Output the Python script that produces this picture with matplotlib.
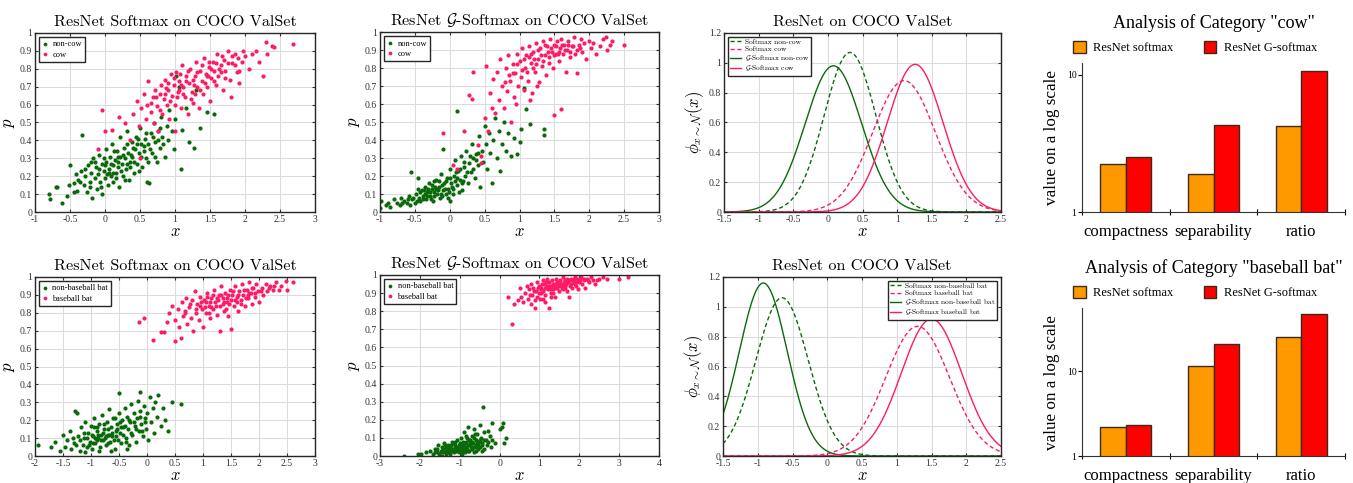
import numpy as np
import matplotlib
matplotlib.use('Agg')
from matplotlib import pyplot as plt
from matplotlib.ticker import FixedLocator, NullLocator, FixedFormatter, MultipleLocator

plt.rcParams['mathtext.fontset'] = 'cm'
plt.rcParams['axes.unicode_minus'] = False
plt.rcParams['font.family'] = ['Liberation Serif', 'DejaVu Serif']

GREEN = '#0a6a0a'
PINK = '#ff1a66'
ORANGE = '#ff9900'
RED = '#ff0000'

# ---- scatter data (x, p) ----
cow_soft_neg = [(-0.80,0.10),(-0.78,0.07),(-0.70,0.14),(-0.68,0.14),(-0.62,0.05),(-0.55,0.09),(-0.52,0.15),(-0.50,0.26),
    (-0.45,0.16),(-0.42,0.21),(-0.40,0.12),(-0.38,0.18),(-0.35,0.23),(-0.33,0.43),(-0.30,0.15),(-0.28,0.20),(-0.26,0.11),
    (-0.25,0.26),(-0.22,0.17),(-0.20,0.22),(-0.18,0.08),(-0.17,0.30),(-0.15,0.19),(-0.13,0.25),(-0.12,0.13),(-0.10,0.21),
    (-0.08,0.32),(-0.07,0.17),(-0.05,0.27),(-0.04,0.10),(-0.02,0.23),(0.00,0.19),(0.01,0.35),(0.02,0.28),(0.04,0.15),
    (0.05,0.24),(0.07,0.31),(0.08,0.20),(0.10,0.38),(0.11,0.26),(0.12,0.17),(0.14,0.29),(0.15,0.22),(0.17,0.34),(0.18,0.25),
    (0.20,0.14),(0.21,0.31),(0.22,0.42),(0.24,0.27),(0.25,0.20),(0.27,0.36),(0.28,0.30),(0.30,0.24),(0.31,0.45),(0.33,0.33),
    (0.34,0.18),(0.36,0.28),(0.38,0.39),(0.39,0.31),(0.41,0.22),(0.43,0.35),(0.44,0.42),(0.46,0.27),(0.48,0.33),(0.50,0.47),
    (0.51,0.38),(0.53,0.25),(0.55,0.34),(0.57,0.41),(0.58,0.30),(0.60,0.17),(0.62,0.38),(0.63,0.16),(0.65,0.44),(0.67,0.33),
    (0.70,0.50),(0.72,0.39),(0.74,0.28),(0.76,0.45),(0.78,0.36),(0.80,0.53),(0.82,0.42),(0.85,0.31),(0.88,0.48),(0.90,0.40),
    (0.92,0.57),(0.95,0.45),(0.98,0.35),(1.00,0.52),(1.02,0.76),(1.05,0.70),(1.08,0.24),(1.10,0.46),(1.15,0.58),(1.20,0.39),
    (1.27,0.36),(1.30,0.68),(1.35,0.47),(1.45,0.56),(1.55,0.55),(-0.20,0.28),(0.06,0.22),(0.32,0.27),(0.18,0.31),(0.45,0.38),
    (-0.28,0.24),(-0.21,0.14),(-0.14,0.28),(-0.06,0.14),(-0.01,0.30),(0.03,0.21),(0.09,0.27),(0.13,0.34),(0.16,0.19),
    (0.19,0.28),(0.23,0.23),(0.26,0.32),(0.29,0.18),(0.32,0.38),(0.35,0.25),(0.37,0.32),(0.40,0.36),(0.42,0.28),(0.47,0.41),
    (0.49,0.23),(0.52,0.31),(0.56,0.37),(0.59,0.44),(0.61,0.28),(0.64,0.35),(0.68,0.42),(0.71,0.31),(0.75,0.40),(0.79,0.47),
    (0.83,0.38),(-0.36,0.17),(-0.44,0.11),(-0.09,0.24),(0.00,0.26),(0.12,0.22)]
cow_soft_pos = [(-0.10,0.35),(-0.05,0.57),(0.00,0.45),(0.10,0.46),(0.20,0.53),(0.28,0.50),(0.35,0.40),(0.40,0.55),(0.45,0.62),
    (0.48,0.48),(0.50,0.30),(0.52,0.58),(0.55,0.66),(0.58,0.52),(0.60,0.60),(0.62,0.73),(0.65,0.56),(0.68,0.64),(0.70,0.50),
    (0.72,0.68),(0.74,0.59),(0.76,0.45),(0.78,0.66),(0.80,0.71),(0.82,0.55),(0.84,0.63),(0.86,0.74),(0.88,0.60),(0.90,0.68),
    (0.92,0.52),(0.94,0.77),(0.96,0.65),(0.98,0.71),(1.00,0.45),(1.00,0.60),(1.02,0.78),(1.04,0.67),(1.06,0.73),(1.08,0.58),
    (1.10,0.82),(1.12,0.70),(1.14,0.64),(1.16,0.76),(1.18,0.55),(1.20,0.72),(1.22,0.80),(1.24,0.67),(1.26,0.61),(1.28,0.76),
    (1.30,0.84),(1.32,0.70),(1.34,0.58),(1.36,0.79),(1.38,0.73),(1.40,0.66),(1.42,0.86),(1.44,0.77),(1.46,0.70),(1.48,0.81),
    (1.50,0.62),(1.52,0.75),(1.54,0.84),(1.56,0.79),(1.58,0.71),(1.60,0.88),(1.62,0.76),(1.65,0.82),(1.68,0.68),(1.70,0.85),
    (1.72,0.79),(1.75,0.90),(1.78,0.74),(1.80,0.64),(1.82,0.83),(1.85,0.88),(1.88,0.78),(1.90,0.86),(1.92,0.72),(1.95,0.84),
    (2.00,0.87),(2.05,0.80),(2.10,0.88),(2.15,0.90),(2.20,0.84),(2.25,0.76),(2.30,0.95),(2.32,0.88),(2.38,0.93),(2.42,0.92),
    (2.68,0.94),(1.05,0.68),(1.25,0.74),(1.45,0.76),(0.85,0.66),(1.65,0.78),
    (0.66,0.61),(0.73,0.64),(0.79,0.57),(0.87,0.69),(0.93,0.62),(0.99,0.75),(1.03,0.64),(1.07,0.77),(1.11,0.66),(1.15,0.73),
    (1.19,0.79),(1.23,0.63),(1.27,0.71),(1.31,0.78),(1.35,0.68),(1.39,0.82),(1.43,0.72),(1.47,0.76),(1.51,0.80),(1.55,0.73),
    (1.59,0.83),(1.63,0.80),(1.67,0.87),(1.71,0.75),(1.76,0.83),(1.81,0.87),(1.86,0.82),(1.91,0.79),(1.97,0.90),(0.90,0.72),
    (1.09,0.71),(1.29,0.66),(1.49,0.84)]
cow_g_neg = [(-1.00,0.02),(-0.98,0.06),(-0.92,0.04),(-0.88,0.05),(-0.85,0.03),(-0.80,0.07),(-0.76,0.05),(-0.72,0.04),
    (-0.70,0.08),(-0.66,0.06),(-0.62,0.05),(-0.58,0.09),(-0.55,0.22),(-0.54,0.07),(-0.50,0.05),(-0.48,0.10),(-0.46,0.19),
    (-0.44,0.08),(-0.42,0.06),(-0.40,0.12),(-0.38,0.09),(-0.36,0.14),(-0.34,0.07),(-0.32,0.11),(-0.30,0.16),(-0.28,0.09),
    (-0.26,0.13),(-0.24,0.06),(-0.22,0.11),(-0.20,0.18),(-0.18,0.10),(-0.16,0.14),(-0.14,0.08),(-0.12,0.21),(-0.10,0.12),
    (-0.09,0.35),(-0.08,0.16),(-0.06,0.10),(-0.04,0.19),(-0.02,0.13),(0.00,0.24),(0.02,0.16),(0.04,0.10),(0.06,0.20),
    (0.08,0.29),(0.10,0.15),(0.10,0.56),(0.12,0.23),(0.14,0.18),(0.16,0.31),(0.18,0.12),(0.20,0.25),(0.22,0.20),(0.24,0.34),
    (0.26,0.16),(0.28,0.27),(0.30,0.22),(0.32,0.38),(0.34,0.30),(0.36,0.19),(0.38,0.32),(0.40,0.26),(0.42,0.42),(0.44,0.14),
    (0.46,0.34),(0.48,0.28),(0.50,0.48),(0.52,0.38),(0.54,0.24),(0.56,0.44),(0.58,0.33),(0.60,0.16),(0.62,0.40),(0.65,0.52),
    (0.68,0.30),(0.70,0.45),(0.72,0.23),(0.75,0.38),(0.78,0.50),(0.80,0.34),(0.84,0.44),(0.88,0.31),(0.92,0.41),(0.96,0.32),
    (1.00,0.39),(1.02,0.46),(1.07,0.69),(1.10,0.57),(1.15,0.49),(1.35,0.43),(1.35,0.46),(-0.35,0.10),(-0.27,0.07),
    (-0.19,0.13),(-0.11,0.09),(-0.03,0.08),(0.05,0.13),(-0.15,0.17),(-0.25,0.15),(0.13,0.11),(0.00,0.06),
    (-0.52,0.08),(-0.47,0.06),(-0.43,0.11),(-0.39,0.07),(-0.37,0.12),(-0.33,0.09),(-0.31,0.13),(-0.29,0.11),(-0.23,0.09),
    (-0.21,0.14),(-0.17,0.12),(-0.13,0.10),(-0.11,0.15),(-0.07,0.13),(-0.05,0.17),(-0.01,0.11),(0.01,0.19),(0.03,0.14),
    (0.07,0.17),(0.09,0.22),(0.11,0.19),(0.15,0.24),(0.17,0.16),(0.21,0.28),(0.25,0.22),(0.29,0.31),(0.33,0.24),(0.37,0.29),
    (0.41,0.33),(-0.60,0.07),(-0.68,0.05),(-0.57,0.04),(-0.45,0.13),(-0.23,0.17),(0.19,0.17)]
cow_g_pos = [(-0.10,0.44),(0.05,0.26),(0.10,0.24),(0.20,0.45),(0.28,0.65),(0.32,0.63),(0.33,0.78),(0.40,0.37),(0.45,0.31),
    (0.45,0.27),(0.50,0.52),(0.52,0.81),(0.55,0.45),(0.58,0.66),(0.60,0.58),(0.62,0.74),(0.65,0.55),(0.68,0.78),(0.70,0.62),
    (0.72,0.85),(0.75,0.70),(0.78,0.58),(0.80,0.80),(0.82,0.67),(0.84,0.87),(0.86,0.73),(0.88,0.50),(0.90,0.82),(0.92,0.64),
    (0.94,0.77),(0.96,0.88),(0.98,0.70),(1.00,0.84),(1.02,0.75),(1.04,0.91),(1.06,0.68),(1.08,0.80),(1.10,0.87),(1.12,0.73),
    (1.14,0.92),(1.16,0.83),(1.18,0.66),(1.20,0.89),(1.22,0.78),(1.24,0.94),(1.26,0.85),(1.28,0.72),(1.30,0.91),(1.32,0.81),
    (1.34,0.95),(1.36,0.87),(1.38,0.76),(1.40,0.92),(1.42,0.86),(1.44,0.96),(1.46,0.89),(1.48,0.80),(1.50,0.93),(1.52,0.88),
    (1.54,0.95),(1.56,0.84),(1.58,0.91),(1.60,0.57),(1.60,0.96),(1.62,0.88),(1.64,0.93),(1.66,0.78),(1.68,0.90),(1.70,0.95),
    (1.72,0.86),(1.75,0.92),(1.78,0.97),(1.80,0.88),(1.82,0.77),(1.85,0.93),(1.88,0.96),(1.90,0.89),(1.93,0.94),(1.96,0.85),
    (2.00,0.95),(2.03,0.91),(2.06,0.94),(2.10,0.88),(2.15,0.92),(2.20,0.96),(2.24,0.97),(2.26,0.90),(2.30,0.93),(2.32,0.95),
    (2.50,0.93),(1.50,0.54),(1.25,0.70),(1.15,0.62),(0.95,0.60),
    (1.21,0.85),(1.27,0.90),(1.31,0.87),(1.37,0.93),(1.41,0.89),(1.45,0.91),(1.49,0.87),(1.53,0.92),(1.57,0.89),(1.61,0.93),
    (1.65,0.90),(1.69,0.93),(1.73,0.89),(1.77,0.92),(1.83,0.90),(1.87,0.91),(0.91,0.77),(0.97,0.82),(1.03,0.79),(1.07,0.85),
    (1.11,0.78),(1.13,0.86),(1.17,0.88),(1.19,0.80),(1.23,0.82),(0.85,0.76),(0.79,0.72),(1.33,0.84),(1.43,0.83),(1.55,0.88)]
bat_soft_neg = [(-1.95,0.06),(-1.72,0.05),(-1.65,0.08),(-1.55,0.03),(-1.50,0.12),(-1.46,0.05),(-1.42,0.09),(-1.38,0.14),
    (-1.35,0.04),(-1.30,0.07),(-1.28,0.25),(-1.25,0.24),(-1.24,0.11),(-1.20,0.03),(-1.18,0.16),(-1.15,0.06),(-1.12,0.10),
    (-1.10,0.19),(-1.08,0.05),(-1.05,0.13),(-1.02,0.08),(-1.00,0.17),(-0.98,0.04),(-0.96,0.11),(-0.94,0.21),(-0.92,0.07),
    (-0.90,0.14),(-0.88,0.10),(-0.86,0.18),(-0.84,0.05),(-0.82,0.12),(-0.80,0.23),(-0.78,0.09),(-0.76,0.15),(-0.74,0.06),
    (-0.72,0.19),(-0.70,0.12),(-0.68,0.26),(-0.66,0.08),(-0.64,0.16),(-0.62,0.11),(-0.60,0.21),(-0.58,0.04),(-0.56,0.14),
    (-0.54,0.18),(-0.52,0.09),(-0.50,0.35),(-0.50,0.24),(-0.48,0.13),(-0.46,0.07),(-0.44,0.20),(-0.42,0.16),(-0.40,0.27),
    (-0.38,0.10),(-0.36,0.22),(-0.34,0.15),(-0.32,0.06),(-0.30,0.19),(-0.28,0.29),(-0.26,0.12),(-0.24,0.24),(-0.22,0.17),
    (-0.20,0.08),(-0.18,0.21),(-0.16,0.31),(-0.14,0.14),(-0.12,0.36),(-0.12,0.25),(-0.10,0.18),(-0.08,0.11),(-0.06,0.28),
    (-0.04,0.21),(-0.02,0.15),(0.00,0.24),(0.02,0.09),(0.05,0.33),(0.08,0.19),(0.10,0.27),(0.12,0.13),(0.15,0.30),
    (0.18,0.22),(0.20,0.34),(0.25,0.17),(0.28,0.27),(0.32,0.20),(0.37,0.14),(0.45,0.30),(0.60,0.29),(-1.10,0.02),
    (-0.95,0.16),(-0.85,0.03),(-0.65,0.03),(-0.75,0.10),(-0.55,0.11),(-0.35,0.04),(-0.90,0.09),(-0.70,0.07),
    (-1.19,0.09),(-1.13,0.13),(-1.07,0.10),(-1.03,0.06),(-0.99,0.12),(-0.93,0.10),(-0.89,0.16),(-0.83,0.09),(-0.79,0.13),
    (-0.73,0.11),(-0.69,0.15),(-0.63,0.13),(-0.59,0.09),(-0.53,0.15),(-0.49,0.19),(-0.43,0.12),(-0.39,0.17),(-0.33,0.20),
    (-0.29,0.13),(-0.23,0.19),(-0.19,0.15),(-0.13,0.22),(-0.09,0.14),(-0.03,0.19),(-1.33,0.10),(-1.27,0.06),(-0.97,0.07),
    (-0.77,0.18),(-0.57,0.21),(-0.37,0.08),(-0.67,0.12),(-0.87,0.12),(-0.47,0.16)]
bat_soft_pos = [(-0.15,0.75),(-0.05,0.77),(0.10,0.65),(0.25,0.69),(0.30,0.69),(0.35,0.75),(0.40,0.80),(0.45,0.84),(0.50,0.64),
    (0.50,0.76),(0.55,0.82),(0.58,0.72),(0.60,0.66),(0.62,0.86),(0.65,0.78),(0.68,0.81),(0.70,0.88),(0.72,0.74),(0.75,0.83),
    (0.78,0.77),(0.80,0.87),(0.82,0.70),(0.85,0.92),(0.88,0.80),(0.90,0.85),(0.92,0.76),(0.95,0.89),(0.98,0.82),(1.00,0.72),
    (1.02,0.87),(1.05,0.80),(1.08,0.91),(1.10,0.84),(1.12,0.77),(1.15,0.88),(1.18,0.82),(1.20,0.93),(1.22,0.86),(1.25,0.79),
    (1.28,0.90),(1.30,0.70),(1.30,0.84),(1.32,0.95),(1.35,0.88),(1.38,0.81),(1.40,0.91),(1.42,0.86),(1.45,0.78),(1.48,0.93),
    (1.50,0.71),(1.50,0.87),(1.52,0.90),(1.55,0.84),(1.58,0.95),(1.60,0.89),(1.62,0.81),(1.65,0.92),(1.68,0.87),(1.70,0.96),
    (1.72,0.90),(1.75,0.84),(1.78,0.93),(1.80,0.88),(1.82,0.97),(1.85,0.91),(1.88,0.85),(1.90,0.94),(1.92,0.89),(1.95,0.96),
    (1.98,0.92),(2.00,0.86),(2.05,0.94),(2.08,0.90),(2.12,0.96),(2.15,0.92),(2.20,0.95),(2.25,0.93),(2.30,0.97),(2.35,0.93),
    (2.40,0.95),(2.48,0.98),(2.50,0.93),(2.60,0.97),(1.05,0.86),(1.25,0.88),(1.45,0.90),(0.95,0.84),(1.15,0.83),(1.35,0.85),
    (0.97,0.86),(1.03,0.83),(1.07,0.89),(1.13,0.86),(1.17,0.90),(1.23,0.84),(1.27,0.87),(1.33,0.90),(1.37,0.86),(1.43,0.88),
    (1.47,0.85),(1.53,0.92),(1.57,0.87),(1.63,0.90),(1.67,0.85),(1.73,0.93),(1.77,0.88),(1.83,0.91),(1.87,0.94),(1.93,0.91),
    (2.03,0.92),(2.17,0.94),(0.87,0.82),(0.77,0.85),(0.67,0.80),(1.11,0.80),(1.41,0.82),(1.61,0.86),(1.81,0.90),(2.27,0.95)]
bat_g_neg = [(-2.40,0.00),(-2.05,0.01),(-1.98,0.01),(-1.85,0.02),(-1.75,0.03),(-1.68,0.01),(-1.62,0.04),(-1.58,0.02),
    (-1.55,0.06),(-1.52,0.01),(-1.48,0.03),(-1.45,0.05),(-1.42,0.02),(-1.40,0.07),(-1.38,0.03),(-1.35,0.01),(-1.32,0.04),
    (-1.30,0.06),(-1.28,0.02),(-1.25,0.05),(-1.22,0.03),(-1.20,0.08),(-1.18,0.04),(-1.15,0.02),(-1.12,0.06),(-1.10,0.03),
    (-1.08,0.09),(-1.05,0.05),(-1.02,0.02),(-1.00,0.07),(-0.98,0.04),(-0.96,0.10),(-0.94,0.03),(-0.92,0.06),(-0.90,0.13),
    (-0.88,0.05),(-0.86,0.02),(-0.84,0.08),(-0.82,0.04),(-0.80,0.16),(-0.78,0.06),(-0.76,0.03),(-0.74,0.09),(-0.72,0.05),
    (-0.70,0.11),(-0.68,0.04),(-0.66,0.07),(-0.64,0.15),(-0.62,0.05),(-0.60,0.09),(-0.58,0.03),(-0.56,0.12),(-0.54,0.06),
    (-0.52,0.08),(-0.50,0.17),(-0.48,0.05),(-0.46,0.10),(-0.44,0.07),(-0.42,0.27),(-0.40,0.13),(-0.38,0.04),(-0.35,0.09),
    (-0.32,0.06),(-0.30,0.14),(-0.28,0.08),(-0.25,0.11),(-0.22,0.05),(-0.20,0.18),(-0.18,0.09),(-0.12,0.07),(0.00,0.15),
    (0.05,0.16),(0.08,0.18),(0.12,0.07),(0.15,0.10),(-1.35,0.05),(-1.15,0.07),(-0.95,0.01),(-0.85,0.11),(-0.65,0.02),
    (-1.25,0.01),(-1.05,0.03),(-0.75,0.07),(-0.55,0.04),(-1.45,0.00),(-0.45,0.03),
    (-1.47,0.02),(-1.41,0.04),(-1.37,0.06),(-1.33,0.02),(-1.27,0.04),(-1.23,0.06),(-1.17,0.03),(-1.13,0.05),(-1.07,0.04),
    (-1.03,0.06),(-0.99,0.03),(-0.97,0.05),(-0.93,0.08),(-0.89,0.04),(-0.87,0.07),(-0.83,0.05),(-0.79,0.03),(-0.77,0.09),
    (-0.73,0.06),(-0.69,0.08),(-0.67,0.05),(-0.63,0.10),(-0.59,0.06),(-0.57,0.08),(-0.53,0.05),(-0.49,0.09),(-0.43,0.06),
    (-0.39,0.09),(-1.57,0.04),(-1.63,0.02),(-1.11,0.08),(-0.81,0.10),(-0.61,0.12)]
bat_g_pos = [(0.20,0.88),(0.30,0.73),(0.35,0.84),(0.45,0.86),(0.50,0.93),(0.55,0.88),(0.60,0.85),(0.65,0.90),(0.70,0.94),
    (0.72,0.87),(0.75,0.92),(0.78,0.84),(0.80,0.95),(0.82,0.89),(0.85,0.93),(0.88,0.86),(0.90,0.82),(0.92,0.91),(0.95,0.96),
    (0.98,0.90),(1.00,0.94),(1.02,0.87),(1.05,0.93),(1.08,0.97),(1.10,0.91),(1.12,0.95),(1.15,0.89),(1.18,0.94),(1.20,0.98),
    (1.22,0.92),(1.25,0.82),(1.25,0.96),(1.28,0.90),(1.30,0.94),(1.32,0.97),(1.35,0.92),(1.38,0.88),(1.40,0.95),(1.42,0.98),
    (1.45,0.93),(1.48,0.96),(1.50,0.91),(1.52,0.97),(1.55,0.94),(1.58,0.99),(1.60,0.92),(1.62,0.96),(1.65,0.94),(1.68,0.98),
    (1.70,0.91),(1.72,0.96),(1.75,0.88),(1.78,0.95),(1.80,0.98),(1.82,0.93),(1.85,0.97),(1.88,0.95),(1.90,0.99),(1.92,0.94),
    (1.95,0.97),(1.98,0.92),(2.00,0.96),(2.05,0.99),(2.08,0.95),(2.12,0.97),(2.15,0.93),(2.20,0.98),(2.25,0.96),(2.30,0.99),
    (2.35,0.97),(2.40,0.95),(2.50,0.98),(2.60,0.99),(2.70,0.98),(3.00,0.98),(3.22,0.99),(1.15,0.85),(1.35,0.90),(1.05,0.90),
    (1.45,0.95),(1.65,0.93),(1.40,0.93),(1.20,0.93),(1.60,0.95),
    (1.03,0.92),(1.13,0.93),(1.17,0.96),(1.23,0.94),(1.27,0.92),(1.33,0.95),(1.37,0.94),(1.43,0.96),(1.47,0.94),(1.53,0.95),
    (1.57,0.93),(1.63,0.97),(1.67,0.95),(1.73,0.97),(1.77,0.94),(1.83,0.96),(1.87,0.98),(1.93,0.96),(1.97,0.98),(2.03,0.97),
    (2.13,0.98),(2.23,0.97),(0.87,0.91),(0.97,0.93),(1.07,0.95),(0.77,0.89),(1.29,0.88),(1.09,0.87),(0.93,0.88),(2.45,0.97)]

# ---- gaussian fits: [Softmax neg, Softmax pos, G-Softmax neg, G-Softmax pos] ----
cow_mu = [0.32, 1.10, 0.08, 1.26]
cow_sigma = [0.373, 0.453, 0.407, 0.403]
bat_mu = [-0.65, 1.30, -0.92, 1.50]
bat_sigma = [0.376, 0.459, 0.344, 0.434]

# ---- bar data ----
metrics = ['compactness', 'separability', 'ratio']
cow_softmax = [2.24, 1.90, 4.22]
cow_gsoftmax = [2.51, 4.29, 10.7]
bat_softmax = [2.20, 11.6, 25.6]
bat_gsoftmax = [2.32, 20.8, 48.1]

fig = plt.figure(figsize=(13.53, 4.83), dpi=100)
W, H = 1353.0, 483.0

def add_ax(l, t, r, b):
    return fig.add_axes([l / W, 1 - b / H, (r - l) / W, (b - t) / H])

def fmt(v, _):
    return '%g' % round(v, 2)

def matlab_style(ax):
    ax.grid(True, color='#dcdcdc', lw=0.8)
    ax.set_axisbelow(True)
    ax.tick_params(direction='in', length=2.5, labelsize=7, top=True, right=True, pad=2, colors='#333333')
    for s in ax.spines.values():
        s.set_linewidth(1.0)
        s.set_color('#262626')

def scatter_panel(ax, neg, pos, labels, title, xlim, xstep):
    neg = np.array(neg); pos = np.array(pos)
    ax.plot(neg[:, 0], neg[:, 1], 'o', ms=3.0, mew=0, color=GREEN, label=labels[0])
    ax.plot(pos[:, 0], pos[:, 1], 'o', ms=3.0, mew=0, color=PINK, label=labels[1])
    ax.set_xlim(*xlim); ax.set_ylim(0, 1)
    ax.xaxis.set_major_locator(MultipleLocator(xstep))
    ax.yaxis.set_major_locator(MultipleLocator(0.1))
    ax.xaxis.set_major_formatter(plt.FuncFormatter(fmt))
    ax.yaxis.set_major_formatter(plt.FuncFormatter(fmt))
    matlab_style(ax)
    ax.set_title(title, fontsize=11.6, family='cmr10', pad=5)
    ax.set_xlabel('$x$', fontsize=12, labelpad=0)
    ax.set_ylabel('$p$', fontsize=12, labelpad=2)
    leg = ax.legend(loc='upper left', fontsize=6, markerscale=0.9, handlelength=0.6, handletextpad=0.6,
                    fancybox=False, framealpha=1, edgecolor='#262626', borderpad=0.4, labelspacing=0.25)
    leg.get_frame().set_linewidth(1.0)

def gauss_panel(ax, mu, sigma, names, loc):
    xs = np.linspace(-1.5, 2.5, 400)
    styles = [('--', GREEN), ('--', PINK), ('-', GREEN), ('-', PINK)]
    for m, s, (ls, c), nm in zip(mu, sigma, styles, names):
        ax.plot(xs, np.exp(-0.5 * ((xs - m) / s) ** 2) / (s * np.sqrt(2 * np.pi)), ls, color=c, lw=1.0,
                dashes=(3, 2) if ls == '--' else (None, None), label=nm)
    ax.set_xlim(-1.5, 2.5); ax.set_ylim(0, 1.2)
    ax.xaxis.set_major_locator(MultipleLocator(0.5))
    ax.yaxis.set_major_locator(MultipleLocator(0.2))
    ax.xaxis.set_major_formatter(plt.FuncFormatter(fmt))
    ax.yaxis.set_major_formatter(plt.FuncFormatter(fmt))
    matlab_style(ax)
    ax.set_title('ResNet on COCO ValSet', fontsize=11.6, family='cmr10', pad=5)
    ax.set_xlabel('$x$', fontsize=12, labelpad=0)
    ax.set_ylabel(r'$\phi_{x\sim\mathcal{N}}(x)$', fontsize=12, labelpad=2)
    leg = ax.legend(loc=loc, prop={'family': 'cmr10', 'size': 5.3}, handlelength=1.5, handletextpad=0.5,
                    fancybox=False, framealpha=1, edgecolor='#262626', borderpad=0.3, labelspacing=0.15)
    leg.get_frame().set_linewidth(1.0)

def bar_panel(ax, soft, gsoft, title, top):
    pos = np.arange(len(metrics))
    w = 0.29
    ax.bar(pos - w / 2, soft, w, bottom=0, color=ORANGE, edgecolor='#3a2a1a', lw=1.0, label='ResNet softmax')
    ax.bar(pos + w / 2, gsoft, w, bottom=0, color=RED, edgecolor='#3a2a1a', lw=1.0, label='ResNet G-softmax')
    ax.set_yscale('log')
    ax.set_ylim(1, top); ax.set_xlim(-0.5, 2.5)
    ax.yaxis.set_major_locator(FixedLocator([1, 10]))
    ax.yaxis.set_major_formatter(FixedFormatter(['1', '10']))
    ax.yaxis.set_minor_locator(NullLocator())
    ax.set_xticks([-0.5, 0.5, 1.5, 2.5])
    ax.set_xticklabels([])
    ax.set_xticks(pos, minor=True)
    ax.set_xticklabels(metrics, minor=True, fontsize=12)
    ax.tick_params(axis='x', which='minor', length=0, pad=9)
    ax.tick_params(axis='x', which='major', direction='inout', length=5)
    ax.tick_params(axis='y', labelsize=7, length=3, pad=1)
    ax.spines['top'].set_visible(False)
    ax.spines['right'].set_visible(False)
    for s in ['left', 'bottom']:
        ax.spines[s].set_color('#333333')
    ax.set_ylabel('value on a log scale', fontsize=12.3, labelpad=5)
    ax.set_title(title, fontsize=13, pad=25)
    ax.legend(loc='lower center', bbox_to_anchor=(0.43, 1.0), ncol=2, frameon=False, fontsize=9,
              handlelength=1.0, handleheight=1.0, columnspacing=2.4, handletextpad=0.6, borderpad=0.2)

ax1 = add_ax(35, 33, 315, 212)
scatter_panel(ax1, cow_soft_neg, cow_soft_pos, ['non-cow', 'cow'], 'ResNet Softmax on COCO ValSet', (-1, 3), 0.5)
ax2 = add_ax(380, 32, 659, 212)
scatter_panel(ax2, cow_g_neg, cow_g_pos, ['non-cow', 'cow'], r'ResNet $\mathcal{G}$-Softmax on COCO ValSet', (-1, 3), 0.5)
ax3 = add_ax(724, 33, 1001, 212)
gauss_panel(ax3, cow_mu, cow_sigma, ['Softmax non-cow', 'Softmax cow', r'$\mathcal{G}$-Softmax non-cow',
            r'$\mathcal{G}$-Softmax cow'], 'upper left')
ax4 = add_ax(1082, 63, 1345, 212)
bar_panel(ax4, cow_softmax, cow_gsoftmax, 'Analysis of Category "cow"', 12.2)

ax5 = add_ax(35, 277, 315, 456)
scatter_panel(ax5, bat_soft_neg, bat_soft_pos, ['non-baseball bat', 'baseball bat'], 'ResNet Softmax on COCO ValSet', (-2, 3), 0.5)
ax6 = add_ax(380, 275, 659, 456)
scatter_panel(ax6, bat_g_neg, bat_g_pos, ['non-baseball bat', 'baseball bat'], r'ResNet $\mathcal{G}$-Softmax on COCO ValSet', (-3, 4), 1)
ax7 = add_ax(723, 277, 1001, 456)
gauss_panel(ax7, bat_mu, bat_sigma, ['Softmax non-baseball bat', 'Softmax baseball bat',
            r'$\mathcal{G}$-Softmax non-baseball bat', r'$\mathcal{G}$-Softmax baseball bat'], 'upper right')
ax8 = add_ax(1082, 308, 1345, 456)
bar_panel(ax8, bat_softmax, bat_gsoftmax, 'Analysis of Category "baseball bat"', 56)

fig.savefig('out.png', dpi=100)
